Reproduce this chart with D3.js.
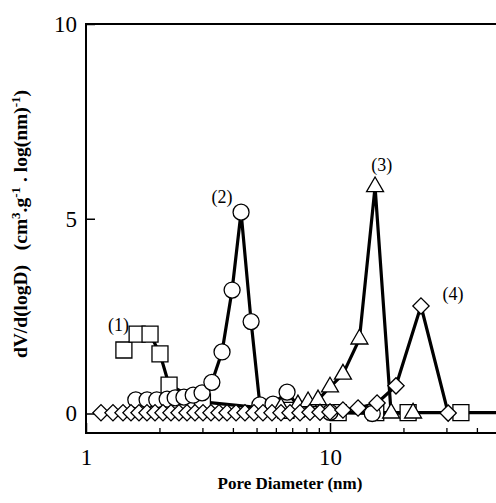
<!DOCTYPE html>
<html>
<head>
<meta charset="utf-8">
<script src="https://cdn.jsdelivr.net/npm/d3@7"></script>
<style>
  body { margin: 0; background: #fff; }
  svg, svg text { font-family: "Liberation Serif", "Times New Roman", serif; }
</style>
</head>
<body>
<svg id="chart" width="496" height="503"></svg>
<script>
// pore diameter (nm) and dV/d(logD) for each sample
var squareD = [1.43, 1.62, 1.83, 2.01, 2.19, 3.0, 6.6, 10.8, 15.4, 20.9, 34.4, 60];
var squareV = [1.63, 2.04, 2.04, 1.53, 0.73, 0.30, 0.08, 0.02, 0.02, 0.02, 0.02, 0.02];

var circleD = [1.60, 1.78, 1.95, 2.15, 2.32, 2.52, 2.75, 2.99, 3.28, 3.61, 3.97, 4.32, 4.75, 5.16, 5.84, 6.67, 7.6, 10.0, 14.9];
var circleV = [0.35, 0.35, 0.35, 0.37, 0.40, 0.42, 0.47, 0.53, 0.80, 1.58, 3.17, 5.17, 2.36, 0.22, 0.24, 0.55, 0.10, 0.03, 0.00];

var triD = [6.3, 7.39, 8.13, 8.93, 10.0, 11.3, 13.2, 15.3, 17.8, 21.9];
var triV = [0.15, 0.22, 0.30, 0.35, 0.68, 1.01, 1.91, 5.82, 0.01, 0.01];

var diamD = [1.152, 1.290, 1.418, 1.529, 1.649, 1.778, 1.918, 2.068, 2.230, 2.405, 2.594, 2.797,
             3.017, 3.253, 3.509, 3.784, 4.120, 4.483, 4.881, 5.313, 5.784, 6.297, 6.855, 7.535,
             8.279, 9.10, 10.0, 11.30, 13.03, 15.59, 18.64, 23.6, 30.5];
var diamV = [0.02, 0.02, 0.02, 0.02, 0.02, 0.02, 0.02, 0.02, 0.02, 0.02, 0.02, 0.02,
             0.02, 0.02, 0.02, 0.02, 0.02, 0.02, 0.02, 0.02, 0.02, 0.02, 0.02, 0.02,
             0.03, 0.03, 0.04, 0.09, 0.14, 0.27, 0.71, 2.76, 0.01];

var xMinor = [2, 3, 4, 5, 6, 7, 8, 9, 20, 30, 40];
var xLabels = [1, 10];
var yTicks = [0, 5, 10];

var tags = ["(1)", "(2)", "(3)", "(4)"];
var tagD = [1.36, 3.61, 16.3, 31.9];
var tagV = [2.22, 5.51, 6.33, 3.02];

var svg = d3.select("#chart");

// scales (log scale extrapolates past 10 to the cut right edge)
var x = d3.scaleLog().domain([1, 10]).range([86, 330]);
var y = d3.scaleLinear().domain([0, 10]).range([413.5, 24]);
var yBottom = y(-0.5);
var xRight = x(60);

// frame
svg.append("path")
    .attr("d", `M${xRight},24 H86 V${yBottom} H${xRight}`)
    .attr("fill", "none")
    .attr("stroke", "#000")
    .attr("stroke-width", 2);

// x ticks inward
svg.append("g")
    .attr("transform", `translate(0,${yBottom})`)
    .call(d3.axisBottom(x).tickValues(xMinor).tickSize(-5).tickFormat(""))
    .call(g => g.select(".domain").remove())
    .call(g => g.selectAll("line").attr("stroke-width", 1.3));

var xMajor = svg.append("g")
    .attr("transform", `translate(0,${yBottom})`)
    .call(d3.axisBottom(x).tickValues(xLabels).tickSize(-10).tickPadding(16).tickFormat(d3.format("d")))
    .call(g => g.select(".domain").remove());
xMajor.attr("font-family", "Liberation Serif").attr("font-size", 23);
xMajor.selectAll("line").attr("stroke-width", 1.5);
xMajor.selectAll("text").attr("fill", "#000");

// y ticks inward
var yAxis = svg.append("g")
    .attr("transform", "translate(86,0)")
    .call(d3.axisLeft(y).tickValues(yTicks).tickSize(-9).tickPadding(9).tickFormat(d3.format("d")))
    .call(g => g.select(".domain").remove());
yAxis.attr("font-family", "Liberation Serif").attr("font-size", 23);
yAxis.selectAll("line").attr("stroke-width", 1.5);
yAxis.selectAll("text").attr("fill", "#000");

// data
var series = [
    { d: squareD, v: squareV, shape: "square" },
    { d: circleD, v: circleV, shape: "circle" },
    { d: triD, v: triV, shape: "triangle" },
    { d: diamD, v: diamV, shape: "diamond" }
];

var line = d3.line()
    .x(p => x(p[0]))
    .y(p => y(p[1]));

var plot = svg.append("g");

series.forEach(function(s) {
    plot.append("path")
        .datum(d3.zip(s.d, s.v))
        .attr("fill", "none")
        .attr("stroke", "#000")
        .attr("stroke-width", 3.2)
        .attr("stroke-linejoin", "round")
        .attr("d", line);
});

var symbols = {
    square: d3.symbol().type(d3.symbolSquare).size(16 * 16)(),
    triangle: d3.symbol().type(d3.symbolTriangle).size(125)(),
    diamond: d3.symbol().type(d3.symbolSquare).size(132)()
};

series.forEach(function(s) {
    var pts = d3.zip(s.d, s.v);
    var g = plot.append("g");
    if (s.shape === "circle") {
        g.selectAll("circle")
            .data(pts)
            .join("circle")
            .attr("cx", p => x(p[0]))
            .attr("cy", p => y(p[1]))
            .attr("r", 8)
            .attr("fill", "#fff")
            .attr("stroke", "#000")
            .attr("stroke-width", 1.3);
    } else {
        g.selectAll("path")
            .data(pts)
            .join("path")
            .attr("d", symbols[s.shape])
            .attr("transform", p => `translate(${x(p[0])},${y(p[1])})` + (s.shape === "diamond" ? " rotate(45)" : ""))
            .attr("fill", "#fff")
            .attr("stroke", "#000")
            .attr("stroke-width", 1.3);
    }
});

// sample tags
svg.append("g")
    .selectAll("text")
    .data(tags)
    .join("text")
    .attr("x", (t, i) => x(tagD[i]))
    .attr("y", (t, i) => y(tagV[i]))
    .attr("text-anchor", "middle")
    .attr("dominant-baseline", "middle")
    .attr("font-size", 18)
    .text(t => t);

// axis titles
svg.append("text")
    .attr("x", 290)
    .attr("y", 489)
    .attr("text-anchor", "middle")
    .attr("font-weight", "bold")
    .attr("font-size", 17)
    .text("Pore Diameter (nm)");

var yt = svg.append("text")
    .attr("transform", "translate(27,224) rotate(-90)")
    .attr("text-anchor", "middle")
    .attr("font-weight", "bold")
    .attr("font-size", 19.5)
    .attr("xml:space", "preserve");
yt.append("tspan").text("dV/d(logD)   (cm");
yt.append("tspan").attr("dy", -7).attr("font-size", 13).text("3");
yt.append("tspan").attr("dy", 7).text(".g");
yt.append("tspan").attr("dy", -7).attr("font-size", 13).text("-1");
yt.append("tspan").attr("dy", 7).text(" . log(nm)");
yt.append("tspan").attr("dy", -7).attr("font-size", 13).text("-1");
yt.append("tspan").attr("dy", 7).text(")");
</script>
</body>
</html>
